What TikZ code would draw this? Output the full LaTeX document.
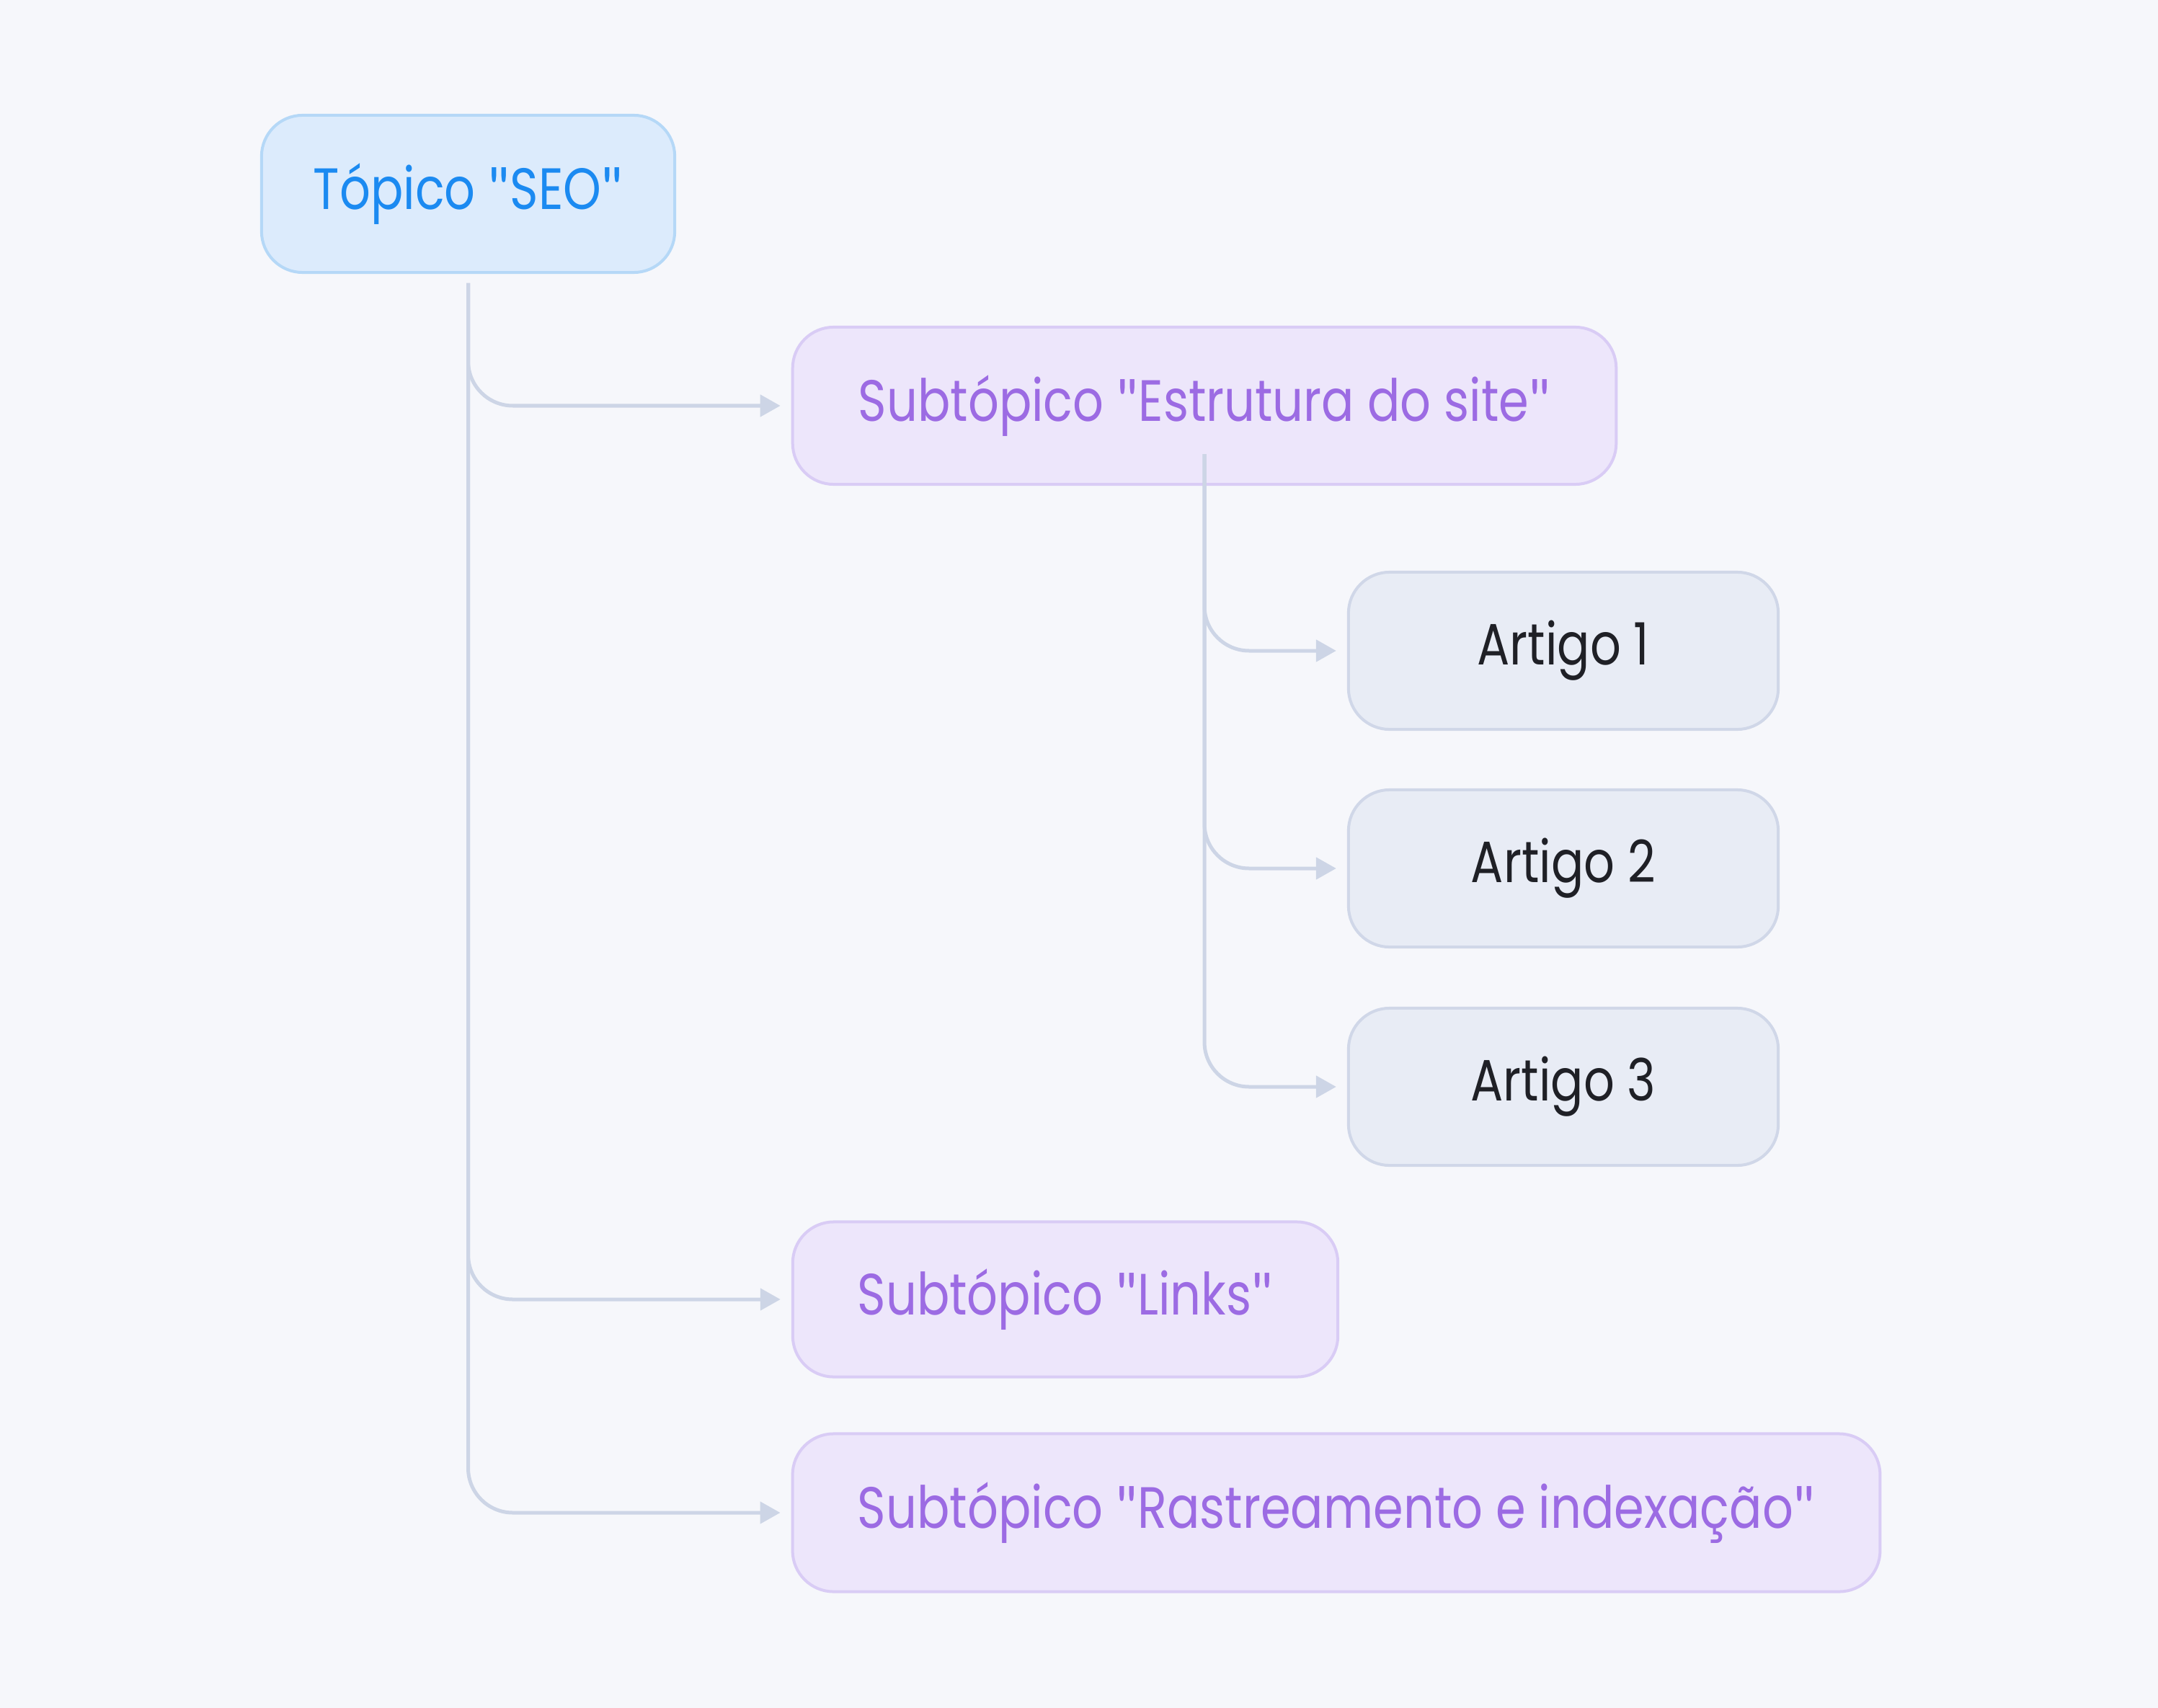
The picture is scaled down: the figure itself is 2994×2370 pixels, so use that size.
\documentclass[tikz,border=0pt]{standalone}
\usepackage{fontspec}
\setmainfont{Poppins}[FakeStretch=0.83]
\newfontfamily\quotefont{Lato}
\newcommand{\dq}{{\quotefont\char"22}}
\usetikzlibrary{arrows.meta}
\definecolor{bgc}{HTML}{F6F7FB}
\definecolor{linec}{HTML}{CDD5E6}
\definecolor{topfill}{HTML}{DCEBFC}
\definecolor{topdraw}{HTML}{B5D8F7}
\definecolor{toptext}{HTML}{1B8AF1}
\definecolor{subfill}{HTML}{EDE6FB}
\definecolor{subdraw}{HTML}{D9CCF5}
\definecolor{subtext}{HTML}{9C6BE3}
\definecolor{artfill}{HTML}{E8ECF5}
\definecolor{artdraw}{HTML}{D0D7E8}
\definecolor{arttext}{HTML}{1F2026}
\tikzset{
  box/.style={rectangle, rounded corners=0.57cm, line width=0.04cm, inner sep=0pt,
    align=center, font=\fontsize{23}{28}\selectfont},
  topbox/.style={box, fill=topfill, draw=topdraw, text=toptext},
  subbox/.style={box, fill=subfill, draw=subdraw, text=subtext},
  artbox/.style={box, fill=artfill, draw=artdraw, text=arttext},
  conn/.style={draw=linec, line width=0.05cm, rounded corners=0.62cm,
    -{Triangle[length=0.28cm,width=0.3cm]}}
}
\begin{document}
\begin{tikzpicture}[x=0.01cm,y=-0.01cm]
\fill[bgc] (0,0) rectangle (2994,2370);
\useasboundingbox (0,0) rectangle (2994,2370);
\node[topbox, minimum width=5.73cm, minimum height=2.18cm] (topic) at (649.5,269) {Tópico \dq SEO\dq};
\node[subbox, minimum width=11.42cm, minimum height=2.18cm] (sub1) at (1671,563) {Subtópico \dq Estrutura do site\dq};
\node[artbox, minimum width=5.96cm, minimum height=2.18cm] (a1) at (2169,903) {Artigo 1};
\node[artbox, minimum width=5.96cm, minimum height=2.18cm] (a2) at (2169,1205) {Artigo 2};
\node[artbox, minimum width=5.96cm, minimum height=2.18cm] (a3) at (2169,1508) {Artigo 3};
\node[subbox, minimum width=7.56cm, minimum height=2.15cm] (sub2) at (1478,1803) {Subtópico \dq Links\dq};
\node[subbox, minimum width=15.08cm, minimum height=2.19cm] (sub3) at (1854,2099) {Subtópico \dq Rastreamento e indexação\dq};
\coordinate (t0) at (649.5,393);
\coordinate (s0) at (1671,630);
\draw[conn] (t0) |- ([xshift=-0.15cm]sub1.west);
\draw[conn] (t0) |- ([xshift=-0.15cm]sub2.west);
\draw[conn] (t0) |- ([xshift=-0.15cm]sub3.west);
\draw[conn] (s0) |- ([xshift=-0.15cm]a1.west);
\draw[conn] (s0) |- ([xshift=-0.15cm]a2.west);
\draw[conn] (s0) |- ([xshift=-0.15cm]a3.west);
\end{tikzpicture}
\end{document}
